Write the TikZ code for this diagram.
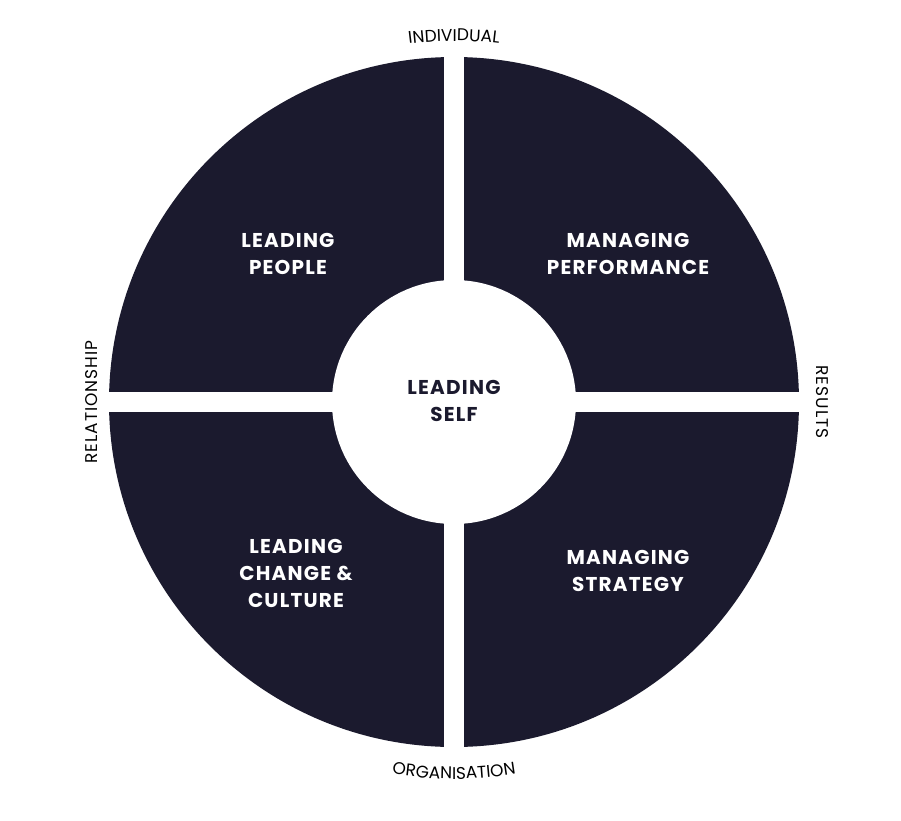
\documentclass[tikz,border=0pt]{standalone}
\usepackage{fontspec}
\setmainfont{Poppins}[LetterSpace=6]
\newfontfamily\lblfont{Poppins}[LetterSpace=6]
\usetikzlibrary{decorations.text}
\definecolor{navy}{HTML}{1B1A2E}
\tikzset{quad/.style={text=white,font=\fontsize{20}{27}\selectfont\bfseries,align=center},
 outer/.style={font=\lblfont\fontsize{17}{20}\selectfont}}
\begin{document}
\begin{tikzpicture}[x=1pt,y=1pt]
\useasboundingbox[fill=white] (-454,-418) rectangle (447,402);
\fill[navy] (0,0) circle[radius=345];
\fill[white] (-10,-360) rectangle (10,360);
\fill[white] (-360,-10) rectangle (360,10);
\fill[white] (0,0) circle[radius=122];
\node[quad] (lp) at (-166,148) {LEADING\\PEOPLE};
\node[quad] (mp) at (174,148) {MANAGING\\PERFORMANCE};
\node[quad,text=navy] (ls) at (0,1) {LEADING\\SELF};
\node[quad] (lc) at (-158,-171) {LEADING\\CHANGE \&\\CULTURE};
\node[quad] (ms) at (174,-169) {MANAGING\\STRATEGY};
\node[outer,rotate=90] (rel) at (-362,0) {RELATIONSHIP};
\node[outer,rotate=-90] (res) at (368,0) {RESULTS};
\path[decorate,decoration={text along path,text align=center,
  text={|\lblfont\fontsize{17}{20}\selectfont|INDIVIDUAL}}]
  (105:361) arc[start angle=105,end angle=75,radius=361];
\path[decorate,decoration={text along path,text align=center,
  text={|\lblfont\fontsize{17}{20}\selectfont|ORGANISATION}}]
  (250:377) arc[start angle=250,end angle=290,radius=377];
\end{tikzpicture}
\end{document}
